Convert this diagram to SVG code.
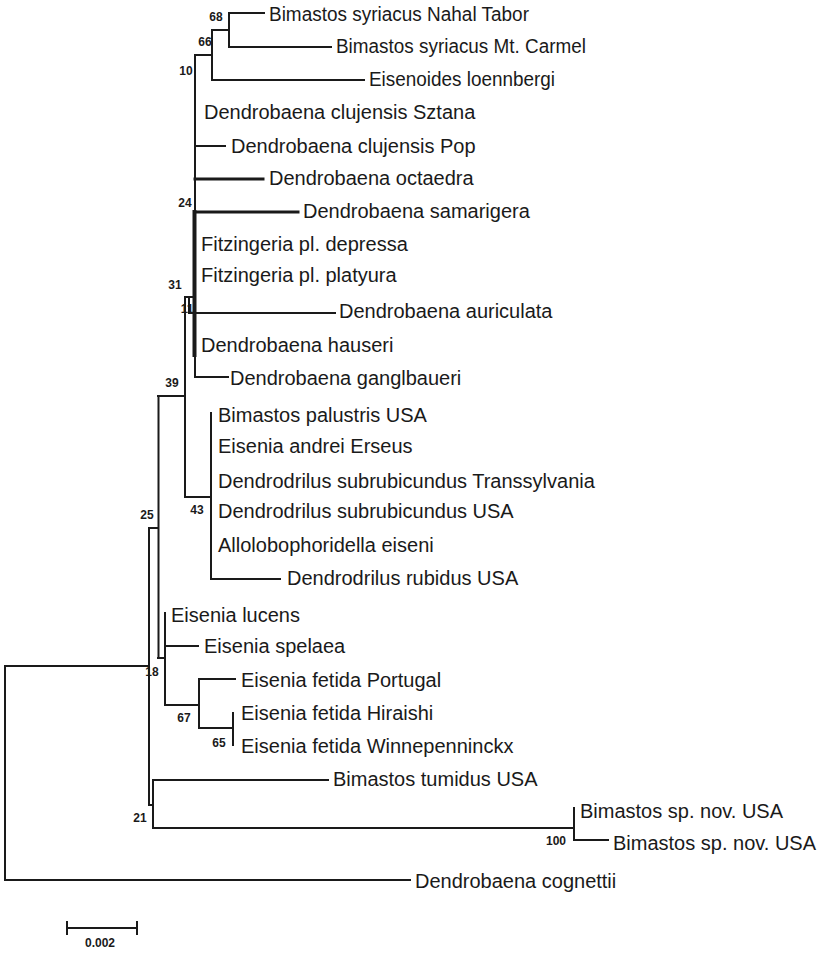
<svg xmlns="http://www.w3.org/2000/svg" width="825" height="953" viewBox="0 0 825 953">
<style>
.b{stroke:#1a1a1a;stroke-width:2;fill:none;stroke-linecap:square}
.t{stroke-width:3}
.tt{stroke-width:4}
.l{font-family:"Liberation Sans",Arial,sans-serif;font-size:20px;fill:#1a1a1a}
.s{font-family:"Liberation Sans",Arial,sans-serif;font-size:12px;font-weight:bold;fill:#1a1a1a;text-anchor:middle}
</style>
<rect width="825" height="953" fill="#fff"/>
<g id="connectors">
<path class="b" d="M5,666V880M5,666H149M5,880H410"/>
<path class="b" d="M149,528V805M149,528H158M149,805H153"/>
<path class="b" d="M153,780V828M153,780H328M153,828H574"/>
<path class="b" d="M574,808V840M574,840H608"/>
<path class="b" d="M158.5,396V658M158,396H185M158,658H165"/>
<path class="b" d="M165,613V705M165,646H198M165,705H199"/>
<path class="b" d="M199,679V728M199,679H235M199,728H233"/>
<path class="b" d="M233,713V745"/>
<path class="b" d="M185,297V497M185,497H211"/>
<path class="b" d="M211,413V579M211,579H280"/>
<path class="b" d="M185,297H194M189,297V313M189,313H335"/>
<path class="b" d="M195,55V377M195,377H228"/>
<path class="b tt" d="M194.5,212V355"/>
<path class="b" d="M195,55H212M212,30V80M212,30H229M212,80H364"/>
<path class="b" d="M229,13V47M229,13H264M229,47H331"/>
<path class="b" d="M195,146H225"/>
<path class="b t" d="M195,179H263M195,212H298"/>
</g>
<g id="internal-nodes">
<g id="n68"><text class="s" x="216" y="21">68</text></g>
<g id="n66"><text class="s" x="205" y="46">66</text></g>
<g id="n10"><text class="s" x="186" y="75">10</text></g>
<g id="n24"><text class="s" x="185" y="207">24</text></g>
<g id="n31"><text class="s" x="175" y="289">31</text></g>
<g id="n11"><text class="s" x="187" y="313">11</text></g>
<g id="n39"><text class="s" x="172" y="387">39</text></g>
<g id="n43"><text class="s" x="197" y="514">43</text></g>
<g id="n25"><text class="s" x="147" y="519">25</text></g>
<g id="n18"><text class="s" x="152" y="676">18</text></g>
<g id="n67"><text class="s" x="184" y="722">67</text></g>
<g id="n65"><text class="s" x="219" y="747">65</text></g>
<g id="n21"><text class="s" x="140" y="822">21</text></g>
<g id="n100"><text class="s" x="556" y="845">100</text></g>
</g>
<g id="tips">
<g id="tip1"><text class="l" x="269" y="21" textLength="260" lengthAdjust="spacingAndGlyphs">Bimastos syriacus Nahal Tabor</text></g>
<g id="tip2"><text class="l" x="336" y="53" textLength="250" lengthAdjust="spacingAndGlyphs">Bimastos syriacus Mt. Carmel</text></g>
<g id="tip3"><text class="l" x="369" y="86" textLength="186" lengthAdjust="spacingAndGlyphs">Eisenoides loennbergi</text></g>
<g id="tip4"><text class="l" x="204" y="119">Dendrobaena clujensis Sztana</text></g>
<g id="tip5"><text class="l" x="231" y="153">Dendrobaena clujensis Pop</text></g>
<g id="tip6"><text class="l" x="269" y="185">Dendrobaena octaedra</text></g>
<g id="tip7"><text class="l" x="303" y="218">Dendrobaena samarigera</text></g>
<g id="tip8"><text class="l" x="201" y="251">Fitzingeria pl. depressa</text></g>
<g id="tip9"><text class="l" x="201" y="282">Fitzingeria pl. platyura</text></g>
<g id="tip10"><text class="l" x="339" y="318">Dendrobaena auriculata</text></g>
<g id="tip11"><text class="l" x="201" y="352">Dendrobaena hauseri</text></g>
<g id="tip12"><text class="l" x="230" y="385">Dendrobaena ganglbaueri</text></g>
<g id="tip13"><text class="l" x="218" y="422">Bimastos palustris USA</text></g>
<g id="tip14"><text class="l" x="218" y="453">Eisenia andrei Erseus</text></g>
<g id="tip15"><text class="l" x="218" y="488">Dendrodrilus subrubicundus Transsylvania</text></g>
<g id="tip16"><text class="l" x="218" y="518">Dendrodrilus subrubicundus USA</text></g>
<g id="tip17"><text class="l" x="218" y="552">Allolobophoridella eiseni</text></g>
<g id="tip18"><text class="l" x="287" y="585">Dendrodrilus rubidus USA</text></g>
<g id="tip19"><text class="l" x="171" y="622">Eisenia lucens</text></g>
<g id="tip20"><text class="l" x="204" y="653">Eisenia spelaea</text></g>
<g id="tip21"><text class="l" x="241" y="687">Eisenia fetida Portugal</text></g>
<g id="tip22"><text class="l" x="241" y="720">Eisenia fetida Hiraishi</text></g>
<g id="tip23"><text class="l" x="241" y="753">Eisenia fetida Winnepenninckx</text></g>
<g id="tip24"><text class="l" x="333" y="786">Bimastos tumidus USA</text></g>
<g id="tip25"><text class="l" x="580" y="818">Bimastos sp. nov. USA</text></g>
<g id="tip26"><text class="l" x="613" y="850">Bimastos sp. nov. USA</text></g>
<g id="tip27"><text class="l" x="415" y="888">Dendrobaena cognettii</text></g>
</g>
<g id="scale-bar">
<path class="b" d="M67,928H137M67,922V934M137,922V934"/>
<text class="s" x="100" y="947">0.002</text>
</g>
</svg>
